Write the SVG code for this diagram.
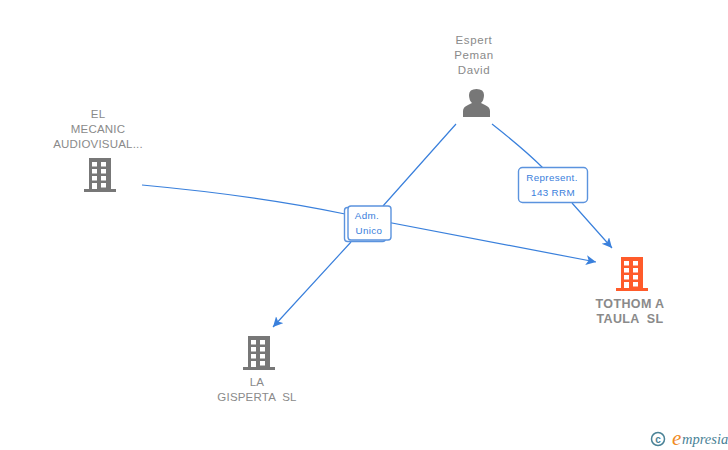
<svg xmlns="http://www.w3.org/2000/svg" width="728" height="450" viewBox="0 0 728 450">
<style>
text{font-family:"Liberation Sans",Arial,sans-serif;text-anchor:middle;white-space:pre}
.n{font-size:11.500px;fill:#8a8a8a;letter-spacing:.2px}
.p{font-size:11.500px;fill:#8a8a8a;letter-spacing:.6px}
.b{font-size:12.500px;font-weight:bold;fill:#8a8a8a;letter-spacing:.35px}
.l{font-size:9.800px;fill:#3a80dc;letter-spacing:.35px}
.c{fill:none;stroke:#3a80dc;stroke-width:1.200}
.box{fill:#fff;stroke:#5b93de;stroke-width:1.400}
.w{fill:#fff}
</style>
<defs>
<marker id="a" markerUnits="userSpaceOnUse" markerWidth="12" markerHeight="12" refX="10" refY="5" orient="auto"><path d="M0 0L10 5L0 10L2.500 5Z" fill="#3a80dc"/></marker>
<g id="bld">
<path d="M5 0H27V31H32V34H0V31H5Z"/>
<g class="w"><rect x="8" y="4" width="5" height="4.500"/><rect x="17" y="4" width="5" height="4.500"/><rect x="8" y="11" width="5" height="4.500"/><rect x="17" y="11" width="5" height="4.500"/><rect x="8" y="18" width="5" height="4.500"/><rect x="17" y="18" width="5" height="4.500"/><rect x="8" y="25" width="5" height="6"/><rect x="17" y="25" width="5" height="4.500"/></g>
</g>
</defs>
<g id="connectors">
<path class="c" d="M142 185Q260 196 345 214L596 262" marker-end="url(#a)"/>
<path class="c" d="M456 124L383 206M351 242L273 327" marker-end="url(#a)"/>
<path class="c" d="M492 124Q525 150 543 168M572 203L612 248" marker-end="url(#a)"/>
</g>
<g id="node-el-mecanic">
<text class="n" x="98" y="118">EL</text><text class="n" x="98" y="133">MECANIC</text><text class="n" x="98" y="148">AUDIOVISUAL...</text>
<use href="#bld" x="84" y="158" fill="#777"/>
</g>
<g id="node-espert">
<text class="p" x="474" y="44">Espert</text><text class="p" x="474" y="59">Peman</text><text class="p" x="474" y="74">David</text>
<path d="M463 117V111Q463 107 468 105L472 103Q469 100 469 95Q469 89 476.500 89Q484 89 484 95Q484 100 481 103L485 105Q490 107 490 111V117Z" fill="#777"/>
</g>
<g id="node-tothom">
<use href="#bld" x="616" y="257" fill="#ff5b2a"/>
<text class="b" x="630" y="308">TOTHOM A</text><text class="b" x="630" y="323">TAULA  SL</text>
</g>
<g id="node-la-gisperta">
<use href="#bld" x="243" y="336" fill="#777"/>
<text class="n" x="257" y="386">LA</text><text class="n" x="257" y="401">GISPERTA  SL</text>
</g>
<g id="label-adm">
<rect class="box" x="344.500" y="207.500" width="41" height="34" rx="3"/>
<rect class="box" x="348" y="206" width="43" height="34" rx="3"/>
<text class="l" x="367" y="219">Adm.</text><text class="l" x="369" y="234">Unico</text>
</g>
<g id="label-represent">
<rect class="box" x="518.500" y="167.500" width="69" height="35" rx="4"/>
<text class="l" x="552" y="181">Represent.</text><text class="l" x="553" y="196">143 RRM</text>
</g>
<g id="logo">
<circle cx="658" cy="439" r="6.500" fill="none" stroke="#4a8296" stroke-width="1.500"/>
<text x="658" y="442.500" style="font-size:10px;font-weight:bold;fill:#4a8296">c</text>
<text x="672" y="445" style="text-anchor:start;font-family:'Liberation Serif',serif;font-size:21px;font-style:italic;fill:#f08a24">e</text>
<text x="682" y="444" style="text-anchor:start;font-family:'Liberation Serif',serif;font-size:14.500px;font-style:italic;fill:#4a8296">mpresia</text>
</g>
</svg>
